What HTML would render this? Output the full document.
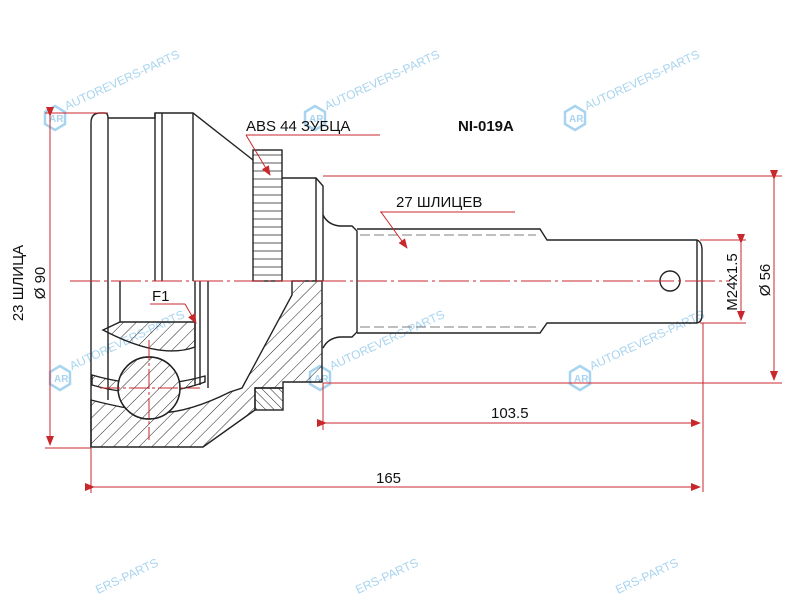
<!DOCTYPE html>
<html><head><meta charset="utf-8"><style>
html,body{margin:0;padding:0;background:#fff;width:800px;height:600px;overflow:hidden;}
svg{display:block;}
text{font-family:"Liberation Sans",sans-serif;}
</style></head><body>
<svg width="800" height="600" viewBox="0 0 800 600" xmlns="http://www.w3.org/2000/svg" overflow="hidden">
<defs>
<pattern id="h" patternUnits="userSpaceOnUse" width="9" height="9" patternTransform="rotate(45)">
<line x1="0" y1="0" x2="0" y2="9" stroke="#222" stroke-width="1"/>
</pattern>
<pattern id="h2" patternUnits="userSpaceOnUse" width="6" height="6" patternTransform="rotate(-45)">
<line x1="0" y1="0" x2="0" y2="6" stroke="#222" stroke-width="1"/>
</pattern>
<marker id="a" markerWidth="10" markerHeight="8" refX="9" refY="4" orient="auto" markerUnits="userSpaceOnUse">
<path d="M0,0 L10,4 L0,8 z" fill="#c8282c"/>
</marker>
<g id="wm" opacity="0.75">
<polygon points="0,-12 10,-6 10,6 0,12 -10,6 -10,-6" fill="none" stroke="#8cc6ea" stroke-width="2.5"/>
<text x="-6" y="4" font-size="10" fill="#8cc6ea" font-weight="bold">AR</text>
<text x="14" y="-2" font-size="12" fill="#8cc6ea" transform="rotate(-25)">AUTOREVERS-PARTS</text>
</g>
</defs>

<use href="#wm" x="55" y="118"/>
<use href="#wm" x="315" y="118"/>
<use href="#wm" x="575" y="118"/>
<use href="#wm" x="60" y="378"/>
<use href="#wm" x="320" y="378"/>
<use href="#wm" x="580" y="378"/>
<g fill="#8cc6ea" opacity="0.75" font-size="12">
<text transform="translate(98,594) rotate(-25)">ERS-PARTS</text>
<text transform="translate(358,594) rotate(-25)">ERS-PARTS</text>
<text transform="translate(618,594) rotate(-25)">ERS-PARTS</text>
</g>

<g fill="none" stroke="#222" stroke-width="1.4">
<path d="M108,281 V118 M91,281 V123 Q91,113 100,113 H105 Q108,113 108,118 H155 V113 H193 L253,160"/>
<line x1="155" y1="113" x2="155" y2="281"/>
<line x1="162" y1="113" x2="162" y2="281"/>
<line x1="193" y1="113" x2="193" y2="281"/>
<rect x="253" y="150" width="29" height="131"/>
<path d="M282,178 H316 L323,186 V281"/>
<line x1="316" y1="178" x2="316" y2="281"/>
<path d="M323,215 Q328,225 340,226 H352 L357,231 V332 L352,337 H340 Q328,338 323,348"/>
<path d="M357,229 H540 L547,240 H697 Q702,242 702,250 V315 Q702,322 697,323 H547 L540,333 H357"/>
<line x1="697" y1="240" x2="697" y2="323"/>
<circle cx="670" cy="281" r="10"/>
<line x1="108" y1="281" x2="108" y2="400"/>
<line x1="120" y1="281" x2="120" y2="322"/>
<line x1="195" y1="281" x2="195" y2="385"/>
<line x1="200" y1="281" x2="200" y2="385"/>
<line x1="208" y1="281" x2="208" y2="388"/>
<line x1="91" y1="281" x2="91" y2="447"/>
</g>
<g stroke="#222" stroke-width="0.8">
<line x1="253" y1="155" x2="282" y2="155"/><line x1="253" y1="163" x2="282" y2="163"/>
<line x1="253" y1="171" x2="282" y2="171"/><line x1="253" y1="179" x2="282" y2="179"/>
<line x1="253" y1="187" x2="282" y2="187"/><line x1="253" y1="195" x2="282" y2="195"/>
<line x1="253" y1="203" x2="282" y2="203"/><line x1="253" y1="211" x2="282" y2="211"/>
<line x1="253" y1="219" x2="282" y2="219"/><line x1="253" y1="227" x2="282" y2="227"/>
<line x1="253" y1="235" x2="282" y2="235"/><line x1="253" y1="243" x2="282" y2="243"/>
<line x1="253" y1="251" x2="282" y2="251"/><line x1="253" y1="259" x2="282" y2="259"/>
<line x1="253" y1="267" x2="282" y2="267"/><line x1="253" y1="275" x2="282" y2="275"/>
</g>
<g stroke="#555" stroke-width="0.8" stroke-dasharray="10,4" fill="none">
<line x1="360" y1="235" x2="536" y2="235"/><line x1="360" y1="327" x2="536" y2="327"/>
</g>
<g stroke="#222" stroke-width="1.4">
<path d="M292,281 H322 V382 H283 V388 H255 V410 L203,447 H91 V400 Q130,410 160,413 Q190,412 230,392 L242,388 L292,295 Z" fill="url(#h)"/>
<rect x="255" y="388" width="28" height="22" fill="url(#h2)"/>
<path d="M120,322 H195 V347 Q160,360 103,330 Z" fill="url(#h)"/>
<path d="M92,375 Q150,392 205,376 L205,382 Q150,402 92,385 Z" fill="url(#h)"/>
<circle cx="149" cy="388" r="31" fill="#fff"/>
<circle cx="149" cy="388" r="31" fill="url(#h)"/>
</g>

<g stroke="#c8282c" stroke-width="1" fill="none">
<line x1="70" y1="281" x2="730" y2="281" stroke-dasharray="30,4,3,4"/>
<line x1="149" y1="340" x2="149" y2="440" stroke-dasharray="20,3,3,3"/>
<line x1="100" y1="388" x2="200" y2="388" stroke-dasharray="20,3,3,3"/>
<line x1="45" y1="113" x2="108" y2="113"/>
<line x1="45" y1="448" x2="91" y2="448"/>
<line x1="50" y1="116" x2="50" y2="445" marker-start="url(#a)" marker-end="url(#a)"/>
<line x1="323" y1="176" x2="782" y2="176"/>
<line x1="323" y1="383" x2="782" y2="383"/>
<line x1="774" y1="179" x2="774" y2="380" marker-start="url(#a)" marker-end="url(#a)"/>
<line x1="700" y1="240" x2="746" y2="240"/>
<line x1="700" y1="323" x2="746" y2="323"/>
<line x1="741" y1="243" x2="741" y2="320" marker-start="url(#a)" marker-end="url(#a)"/>
<line x1="323" y1="383" x2="323" y2="430"/>
<line x1="703" y1="323" x2="703" y2="492"/>
<line x1="91" y1="448" x2="91" y2="493"/>
<line x1="326" y1="423" x2="700" y2="423" marker-start="url(#a)" marker-end="url(#a)"/>
<line x1="94" y1="487" x2="700" y2="487" marker-start="url(#a)" marker-end="url(#a)"/>
<line x1="246" y1="135" x2="380" y2="135"/>
<line x1="246" y1="135" x2="270" y2="175" marker-end="url(#a)"/>
<line x1="380" y1="212" x2="515" y2="212"/>
<line x1="381" y1="212" x2="407" y2="248" marker-end="url(#a)"/>
<line x1="150" y1="304" x2="185" y2="304"/>
<line x1="185" y1="304" x2="196" y2="323" marker-end="url(#a)"/>
</g>

<g fill="#111" font-size="15">
<text x="246" y="131">ABS 44 ЗУБЦА</text>
<text x="458" y="131" font-weight="bold">NI-019A</text>
<text x="396" y="207">27 ШЛИЦЕВ</text>
<text x="152" y="301">F1</text>
<text x="491" y="418">103.5</text>
<text x="376" y="483">165</text>
<text transform="translate(23,283) rotate(-90)" text-anchor="middle">23 ШЛИЦА</text>
<text transform="translate(45,283) rotate(-90)" text-anchor="middle">Ø 90</text>
<text transform="translate(737,282) rotate(-90)" text-anchor="middle">M24x1.5</text>
<text transform="translate(770,280) rotate(-90)" text-anchor="middle">Ø 56</text>
</g>
</svg>
</body></html>
